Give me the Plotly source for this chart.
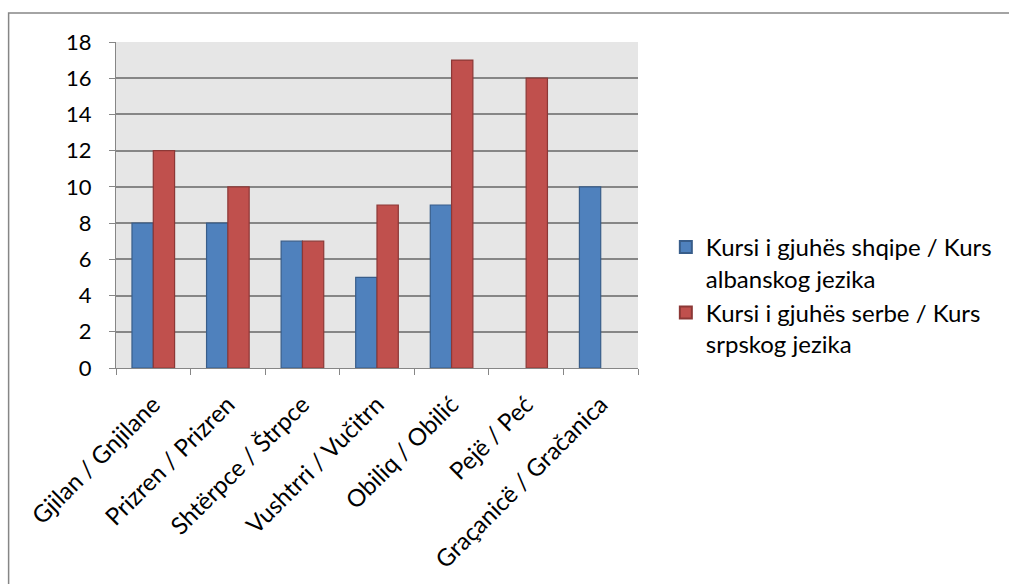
import plotly.graph_objects as go

categories = [
    "Gjilan / Gnjilane",
    "Prizren / Prizren",
    "Shtërpce / Štrpce",
    "Vushtrri / Vučitrn",
    "Obiliq / Obilić",
    "Pejë / Peć",
    "Graçanicë / Gračanica",
]
albanian_courses = [8, 8, 7, 5, 9, None, 10]
serbian_courses = [12, 10, 7, 9, 17, 16, None]

series_names = [
    "Kursi i gjuhës shqipe / Kurs<br>albanskog jezika",
    "Kursi i gjuhës serbe / Kurs<br>srpskog jezika",
]
y_ticks = [0, 2, 4, 6, 8, 10, 12, 14, 16, 18]

W, H = 1009, 584
L, R, T, B = 116, 641, 42, 368
FONT = "Lato, Calibri, Carlito, sans-serif"

fig = go.Figure()
fig.add_trace(go.Bar(
    x=categories, y=albanian_courses, name=series_names[0],
    marker=dict(color="#4F81BD", line=dict(color="#385D8A", width=1.2)),
))
fig.add_trace(go.Bar(
    x=categories, y=serbian_courses, name=series_names[1],
    marker=dict(color="#C0504D", line=dict(color="#8C3836", width=1.2)),
))

fig.update_layout(
    width=W, height=H,
    margin=dict(l=L, r=W - R, t=T, b=H - B, pad=0),
    paper_bgcolor="white",
    plot_bgcolor="#E6E6E6",
    barmode="group",
    bargap=0.4286,
    bargroupgap=0,
    font=dict(family=FONT, size=22, color="black"),
    showlegend=True,
    legend=dict(
        x=(669 - L) / (R - L), xanchor="left",
        y=(B - 225) / (B - T), yanchor="top",
        font=dict(size=24, family=FONT),
        valign="top",
        itemsizing="constant",
        tracegroupgap=4,
        bgcolor="rgba(0,0,0,0)",
    ),
    xaxis=dict(
        type="category",
        tickangle=-45,
        ticks="outside", ticklen=6, tickcolor="#868686", tickwidth=1,
        tickson="boundaries",
        showline=True, linecolor="#868686", linewidth=1,
        showgrid=False,
        tickfont=dict(size=24),
        ticklabelstandoff=12,
    ),
    yaxis=dict(
        range=[0, 18],
        tickvals=y_ticks,
        ticks="outside", ticklen=6, tickcolor="#868686", tickwidth=1,
        showline=True, linecolor="#868686", linewidth=1,
        showgrid=True, gridcolor="#868686", gridwidth=1.5,
        zeroline=False,
        tickfont=dict(size=22),
        ticklabelstandoff=13,
    ),
    shapes=[dict(
        type="rect", xref="paper", yref="paper",
        x0=(8 - L) / (R - L), x1=(1040 - L) / (R - L),
        y0=(B - 620) / (B - T), y1=(B - 13) / (B - T),
        line=dict(color="#868686", width=1.5),
        fillcolor="rgba(0,0,0,0)", layer="below",
    )],
)

fig.write_html("out.html")
